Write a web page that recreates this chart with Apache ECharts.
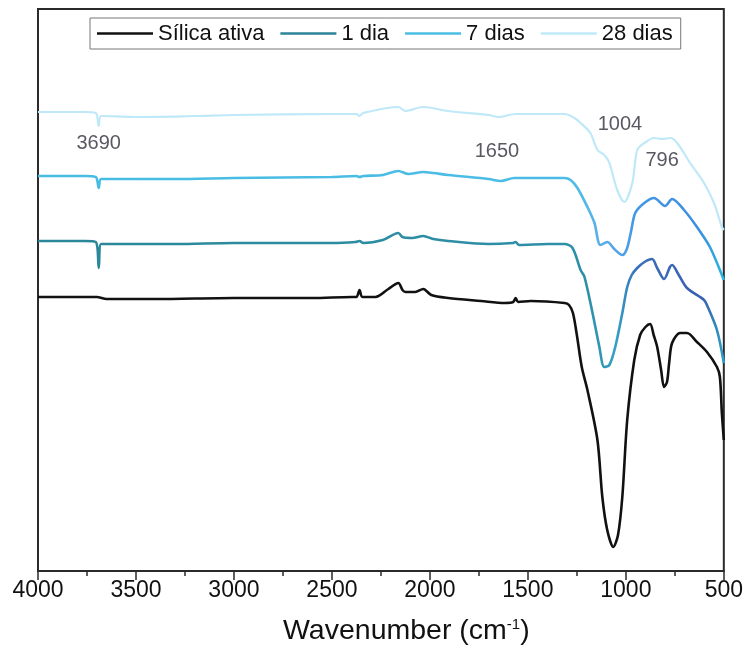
<!DOCTYPE html>
<html>
<head>
<meta charset="utf-8">
<script src="https://cdn.jsdelivr.net/npm/echarts@6/dist/echarts.min.js"></script>
<style>
  html, body { margin: 0; padding: 0; background: #ffffff; }
  #chart { width: 746px; height: 657px; }
</style>
</head>
<body>
<div id="chart"></div>
<script>
// FTIR spectra (arbitrary transmittance units, curves offset vertically)
const seriesNames = ['Sílica ativa', '1 dia', '7 dias', '28 dias'];

const silicaWn = [4000, 3800, 3700, 3650, 3400, 3000, 2600, 2400, 2375, 2359, 2345, 2278, 2212, 2161, 2140, 2125, 2075, 2034, 1993, 1907, 1739, 1618, 1575, 1562, 1550, 1486, 1313, 1290, 1270, 1250, 1225, 1196, 1145, 1120, 1095, 1064, 1040, 1018, 993, 957, 927, 900, 876, 858, 840, 820, 805, 790, 779, 764, 723, 688, 637, 586, 535, 520, 510, 500];
const silicaT  = [274, 274, 274, 272, 272, 273, 273, 274, 274, 281, 274, 274, 282, 288, 281, 279, 279, 282, 276, 273, 270, 268, 269, 273, 269, 270, 268, 266, 258, 236, 204, 181, 131, 74, 41, 24, 36, 74, 151, 211, 236, 244, 247, 236, 224, 201, 184, 189, 208, 228, 238, 238, 229, 219, 204, 194, 158, 131];

const dia1Wn = [4000, 3760, 3705, 3690, 3678, 3600, 3300, 3000, 2500, 2380, 2359, 2340, 2240, 2161, 2140, 2090, 2034, 1983, 1907, 1700, 1575, 1562, 1545, 1400, 1313, 1272, 1231, 1211, 1170, 1135, 1110, 1084, 1054, 1018, 993, 970, 942, 905, 866, 840, 805, 775, 764, 730, 688, 601, 586, 535, 500];
const dia1T  = [330, 330, 329, 303, 327, 327, 327, 328, 328, 329, 330, 328, 331, 338, 334, 333, 335, 332, 330, 327, 328, 329, 326, 327, 327, 323, 301, 294, 258, 224, 204, 206, 224, 258, 284, 296, 303, 309, 312, 303, 292, 304, 306, 296, 283, 271, 266, 241, 208];

const dia7Wn = [4000, 3760, 3705, 3690, 3678, 3600, 3300, 3000, 2500, 2375, 2359, 2340, 2240, 2161, 2110, 2034, 1983, 1907, 1700, 1638, 1570, 1313, 1282, 1247, 1196, 1160, 1130, 1094, 1059, 1018, 995, 975, 952, 906, 856, 800, 764, 703, 637, 571, 520, 500];
const dia7T  = [395, 395, 394, 383, 392, 392, 392, 393, 394, 395, 394, 395, 396, 400, 397, 399, 398, 396, 392, 390, 393, 393, 391, 383, 364, 348, 326, 329, 322, 316, 322, 338, 358, 368, 373, 365, 372, 361, 344, 324, 301, 291];

const dia28Wn = [4000, 3760, 3705, 3690, 3678, 3500, 3200, 3000, 2500, 2375, 2359, 2340, 2161, 2125, 2034, 1907, 1700, 1650, 1562, 1313, 1262, 1231, 1181, 1145, 1110, 1084, 1044, 1008, 967, 942, 906, 856, 815, 774, 738, 672, 601, 550, 510, 500];
const dia28T  = [459, 459, 458, 445, 455, 454, 455, 456, 457, 457, 455, 458, 464, 460, 464, 460, 456, 454, 457, 457, 453, 448, 438, 421, 416, 408, 381, 369, 388, 421, 428, 433, 432, 433, 428, 408, 388, 368, 344, 341];

// band annotations: text, wavenumber position, vertical position
const bandText = ['3690', '1650', '1004', '796'];
const bandWn   = [3690, 1658, 1030, 815];
const bandT    = [428, 420, 447, 411];

const xTicks = { min: 500, max: 4000, step: 500 };

const pairs = (xs, ys) => xs.map((x, i) => [x, ys[i]]);
const grad = (stops) => new echarts.graphic.LinearGradient(0, 0, 1, 0,
  stops.map(s => ({ offset: s[0], color: s[1] })));

const legendColors = ['#111111', '#2b8399', '#4bbee3', '#c2eaf8'];

const lineColors = [
  '#111111',
  grad([[0, '#2a8799'], [0.80, '#2e8fa8'], [0.84, '#35a0c4'], [0.87, '#3a70bb'], [0.965, '#3a5fb0'], [1, '#2aa6c8']]),
  grad([[0, '#47bde2'], [0.78, '#4cbce6'], [0.82, '#5aaee9'], [0.87, '#4596e4'], [0.96, '#3d8fe0'], [1, '#25b8e2']]),
  '#bfe9f8'
];

const seriesData = [
  pairs(silicaWn, silicaT),
  pairs(dia1Wn, dia1T),
  pairs(dia7Wn, dia7T),
  pairs(dia28Wn, dia28T)
];

const series = seriesNames.map((name, i) => ({
  name: name,
  type: 'line',
  data: seriesData[i],
  symbol: 'none',
  smooth: 0.3,
  color: legendColors[i],
  lineStyle: { color: lineColors[i], width: i === 3 ? 2.2 : 2.6 },
  z: 10 - i
}));

series.push({
  name: 'bands',
  type: 'scatter',
  data: bandWn.map((w, i) => ({ value: [w, bandT[i]], label: { formatter: bandText[i] } })),
  symbolSize: 0,
  silent: true,
  label: {
    show: true,
    position: 'inside',
    color: '#30303a',
    fontFamily: 'Liberation Sans, Arial, sans-serif',
    fontSize: 20
  },
  z: 20
});

const chart = echarts.init(document.getElementById('chart'), null, { renderer: 'canvas' });

chart.setOption({
  backgroundColor: '#ffffff',
  animation: false,
  title: {
    text: 'Wavenumber (cm{s|-1})',
    left: 283,
    top: 617,
    padding: 0,
    textStyle: {
      fontFamily: 'Liberation Sans, Arial, sans-serif',
      fontSize: 28.5,
      fontWeight: 'normal',
      color: '#111111',
      rich: {
        s: { fontSize: 15, verticalAlign: 'top', padding: [0, 0, 13, 0], fontFamily: 'Liberation Sans, Arial, sans-serif', color: '#111111' }
      }
    }
  },
  legend: {
    data: seriesNames.map((n, i) => ({ name: n, itemStyle: { color: legendColors[i] } })),
    icon: 'rect',
    left: 90,
    top: 18,
    orient: 'horizontal',
    itemWidth: 56,
    itemHeight: 2.6,
    itemGap: 16,
    padding: [3, 8, 3, 7],
    borderColor: '#777777',
    borderWidth: 1,
    backgroundColor: '#ffffff',
    textStyle: {
      fontFamily: 'Liberation Sans, Arial, sans-serif',
      fontSize: 22,
      color: '#111111',
      lineHeight: 25
    }
  },
  grid: {
    left: 38,
    right: 18,
    top: 9,
    bottom: 86,
    show: true,
    borderColor: '#2a2a2a',
    borderWidth: 2,
    containLabel: false
  },
  xAxis: {
    type: 'value',
    inverse: true,
    min: xTicks.min,
    max: xTicks.max,
    interval: xTicks.step,
    splitLine: { show: false },
    axisLine: { show: true, onZero: false, lineStyle: { color: '#2a2a2a', width: 2 } },
    axisTick: { show: true, inside: false, length: 9, lineStyle: { color: '#2a2a2a', width: 1.5 } },
    minorTick: { show: true, splitNumber: 2, length: 5, lineStyle: { color: '#2a2a2a', width: 1.5 } },
    axisLabel: {
      margin: 8,
      formatter: (v) => String(v),
      fontFamily: 'Liberation Sans, Arial, sans-serif',
      fontSize: 23,
      color: '#111111'
    }
  },
  yAxis: {
    type: 'value',
    min: 0,
    max: 562,
    show: false
  },
  series: series
});
</script>
</body>
</html>
